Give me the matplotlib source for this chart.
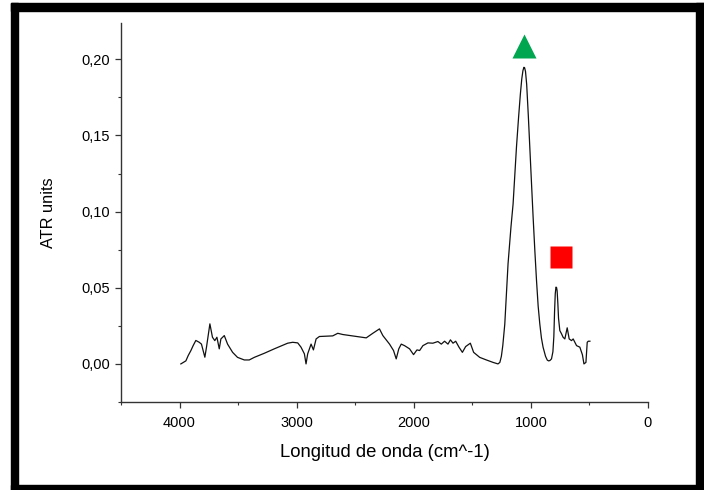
import matplotlib
matplotlib.use("Agg")
import matplotlib.pyplot as plt
from matplotlib.patches import Rectangle
from matplotlib.ticker import FixedLocator, MultipleLocator

plt.rcParams['font.family'] = ['Liberation Sans', 'DejaVu Sans']

# ATR spectrum (wavenumber in cm^-1, absorbance in ATR units)
wavenumber = [3989, 3946, 3926, 3903, 3884, 3861, 3832, 3813, 3784, 3770,
              3741, 3719, 3699, 3681, 3661, 3647, 3618, 3590, 3547, 3505,
              3447, 3405, 3362, 3276, 3191, 3077, 3034, 2991, 2963, 2934,
              2920, 2906, 2877, 2857, 2834, 2806, 2692, 2649, 2606, 2406,
              2350, 2293, 2264, 2207, 2173, 2150, 2128, 2107, 2079, 2036,
              2002, 1973, 1950, 1922, 1879, 1837, 1794, 1765, 1737, 1708,
              1687, 1665, 1642, 1614, 1585, 1557, 1517, 1489, 1437, 1380,
              1323, 1281, 1265, 1252, 1240, 1223, 1195, 1170, 1152, 1123,
              1105, 1090, 1078, 1068, 1060, 1054, 1046, 1036, 1022, 1009,
              995, 981, 966, 952, 938, 924, 910, 896, 875, 860,
              849, 838, 824, 812, 804, 798, 792, 786, 781, 776,
              770, 764, 753, 738, 725, 710, 690, 673, 653, 639,
              610, 582, 560, 547, 530, 519, 510, 496]
absorbance = [0.000, 0.002, 0.0055, 0.0088, 0.012, 0.0154, 0.0142, 0.013, 0.0044, 0.011,
              0.0263, 0.0175, 0.0153, 0.0175, 0.0099, 0.0164, 0.0186, 0.013, 0.0076, 0.0043,
              0.0026, 0.0026, 0.0043, 0.007, 0.0099, 0.0136, 0.0142, 0.0138, 0.011, 0.0066,
              0.000, 0.0066, 0.013, 0.0092, 0.0164, 0.018, 0.0184, 0.0201, 0.0193, 0.0171,
              0.0201, 0.023, 0.0186, 0.013, 0.0088, 0.0033, 0.0099, 0.013, 0.012, 0.0099,
              0.0061, 0.0092, 0.0088, 0.012, 0.0138, 0.0136, 0.0147, 0.013, 0.0149, 0.013,
              0.0158, 0.0136, 0.0149, 0.011, 0.0076, 0.0114, 0.0136, 0.0076, 0.0043, 0.0026,
              0.001, 0.000, 0.001, 0.005, 0.012, 0.026, 0.0658, 0.090, 0.105, 0.1425,
              0.162, 0.177, 0.187, 0.1925, 0.1947, 0.1945, 0.192, 0.1835, 0.163, 0.1425,
              0.119, 0.0964, 0.074, 0.0548, 0.038, 0.0263, 0.017, 0.011, 0.005, 0.0025,
              0.002, 0.0022, 0.0033, 0.008, 0.018, 0.034, 0.046, 0.0504, 0.0502, 0.048,
              0.040, 0.030, 0.0219, 0.0197, 0.0175, 0.0164, 0.0237, 0.0164, 0.0153, 0.0164,
              0.012, 0.011, 0.006, 0.000, 0.001, 0.0142, 0.0149, 0.0149]

# Band markers
triangle_pos = (1055, 0.209)
square_pos = (741, 0.070)

x_ticks = [4000, 3000, 2000, 1000, 0]
x_tick_labels = ["4000", "3000", "2000", "1000", "0"]
y_ticks = [0.00, 0.05, 0.10, 0.15, 0.20]
y_tick_labels = ["0,00", "0,05", "0,10", "0,15", "0,20"]

fig = plt.figure(figsize=(7.04, 4.90), dpi=100)
ax = fig.add_axes([121 / 704, 1 - 402 / 490, (648 - 121) / 704, (402 - 22.7) / 490])

ax.plot(wavenumber, absorbance, color="#111111", lw=0.9)
ax.plot(*triangle_pos, marker="^", ms=17, color="#00A650", mec="none", ls="none")
ax.plot(*square_pos, marker="s", ms=15.5, color="#FF0000", mec="none", ls="none")

ax.set_xlim(4500, 0)
ax.set_ylim(-0.025, 0.224)

ax.xaxis.set_major_locator(FixedLocator(x_ticks))
ax.set_xticklabels(x_tick_labels)
ax.xaxis.set_minor_locator(MultipleLocator(500))
ax.yaxis.set_major_locator(FixedLocator(y_ticks))
ax.set_yticklabels(y_tick_labels)
ax.yaxis.set_minor_locator(MultipleLocator(0.025))

for side in ("top", "right"):
    ax.spines[side].set_visible(False)
for side in ("left", "bottom"):
    ax.spines[side].set_color("#333333")
    ax.spines[side].set_linewidth(1.0)

ax.tick_params(which="major", direction="out", length=4, width=0.9, color="#333333",
               labelsize=10.5, pad=4)
ax.tick_params(which="minor", direction="out", length=2.5, width=0.8, color="#333333")
ax.tick_params(axis="x", which="major", pad=6)

ax.set_xlabel("Longitud de onda (cm^-1)", fontsize=13.3, labelpad=10)
ax.set_ylabel("ATR units", fontsize=11.8, labelpad=18)

# Thick black frame around the figure
frame = dict(transform=None, color="black", zorder=10)
W, H = 704, 490
fig.patches.append(Rectangle((11, 0), 7, H - 3, **frame))          # left
fig.patches.append(Rectangle((11, H - 11), W - 11, 8, **frame))    # top
fig.patches.append(Rectangle((11, 0), W - 11, 5, **frame))         # bottom
fig.patches.append(Rectangle((696, 0), 8, H - 3, **frame))         # right

fig.savefig("out.png", dpi=100)
